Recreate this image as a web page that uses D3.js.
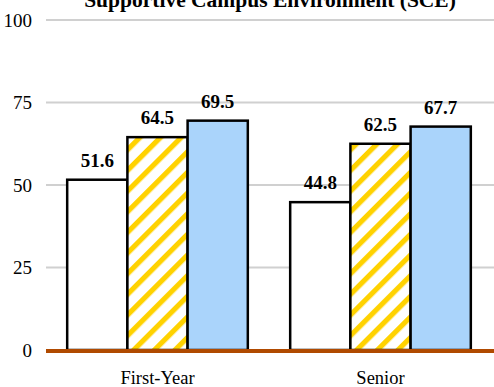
<!DOCTYPE html>
<html><head><meta charset="utf-8">
<script src="https://cdn.jsdelivr.net/npm/d3@7"></script>
<style>body{margin:0;background:#fff}svg{display:block}</style>
</head><body>
<svg id="c" width="494" height="387"></svg>
<script>
const title = "Supportive Campus Environment (SCE)";
const categories = ["First-Year", "Senior"];
const series = ["Institution", "Comparison A", "Comparison B"];
const values = [[51.6, 64.5, 69.5], [44.8, 62.5, 67.7]];
const yTicks = [0, 25, 50, 75, 100];

const svg = d3.select("#c");
const font = "'Liberation Serif','Times New Roman',serif";
const m = {l: 46, r: 494, t: 20, b: 350};
const x = d3.scaleBand().domain(categories).range([m.l, m.r - 2]).paddingInner(0.19).paddingOuter(0.095);
const xs = d3.scaleBand().domain(series).range([0, x.bandwidth()]);
const y = d3.scaleLinear().domain([0, 100]).range([m.b, m.t]);

const defs = svg.append("defs");
const P = 14.6;
const pat = defs.append("pattern").attr("id", "hatch").attr("patternUnits", "userSpaceOnUse")
  .attr("width", P).attr("height", P).attr("patternTransform", "rotate(45)");
pat.append("rect").attr("width", P).attr("height", P).attr("fill", "#fff");
pat.append("rect").attr("x", 0).attr("width", 5.2).attr("height", P).attr("fill", "#ffd200");

svg.append("g").selectAll("line").data(yTicks.filter(d => d > 0)).join("line")
  .attr("x1", m.l).attr("x2", m.r).attr("y1", d => y(d)).attr("y2", d => y(d))
  .attr("stroke", "#d0d0d0").attr("stroke-width", 2);

const yAxis = d3.axisLeft(y).tickValues(yTicks).tickSize(0).tickPadding(14);
const ga = svg.append("g").attr("transform", `translate(${m.l},0)`).call(yAxis);
ga.select(".domain").remove();
ga.attr("font-family", font);
ga.selectAll("text").attr("font-family", font).attr("font-size", 19).attr("fill", "#000");

const fills = ["#ffffff", "url(#hatch)", "#aad4fb"];
const g = svg.append("g").selectAll("g").data(categories).join("g")
  .attr("transform", d => `translate(${x(d)},0)`);
g.selectAll("rect").data((d, i) => values[i].map((v, j) => ({s: series[j], v, j}))).join("rect")
  .attr("x", d => xs(d.s)).attr("width", xs.bandwidth())
  .attr("y", d => y(d.v)).attr("height", d => y(0) - y(d.v))
  .attr("fill", d => fills[d.j]).attr("stroke", "#000").attr("stroke-width", 2.5);
g.selectAll("text").data((d, i) => values[i].map((v, j) => ({s: series[j], v, j}))).join("text")
  .attr("x", d => xs(d.s) + xs.bandwidth() / 2).attr("y", d => y(d.v) - 13)
  .attr("text-anchor", "middle").attr("font-family", font).attr("font-weight", "bold")
  .attr("font-size", 19).text(d => d.v.toFixed(1));

svg.append("line").attr("x1", m.l).attr("x2", m.r).attr("y1", y(0) + 1).attr("y2", y(0) + 1)
  .attr("stroke", "#b04a00").attr("stroke-width", 4);

const xAxis = d3.axisBottom(x).tickSize(0).tickPadding(21);
const gx = svg.append("g").attr("transform", `translate(0,${m.b})`).call(xAxis);
gx.select(".domain").remove();
gx.attr("font-family", font);
gx.selectAll("text").attr("font-family", font).attr("font-size", 18.5).attr("fill", "#000");

svg.append("text").attr("x", (m.l + m.r) / 2).attr("y", 7).attr("text-anchor", "middle")
  .attr("font-family", font).attr("font-weight", "bold").attr("font-size", 21.5).text(title);
</script>
</body></html>
